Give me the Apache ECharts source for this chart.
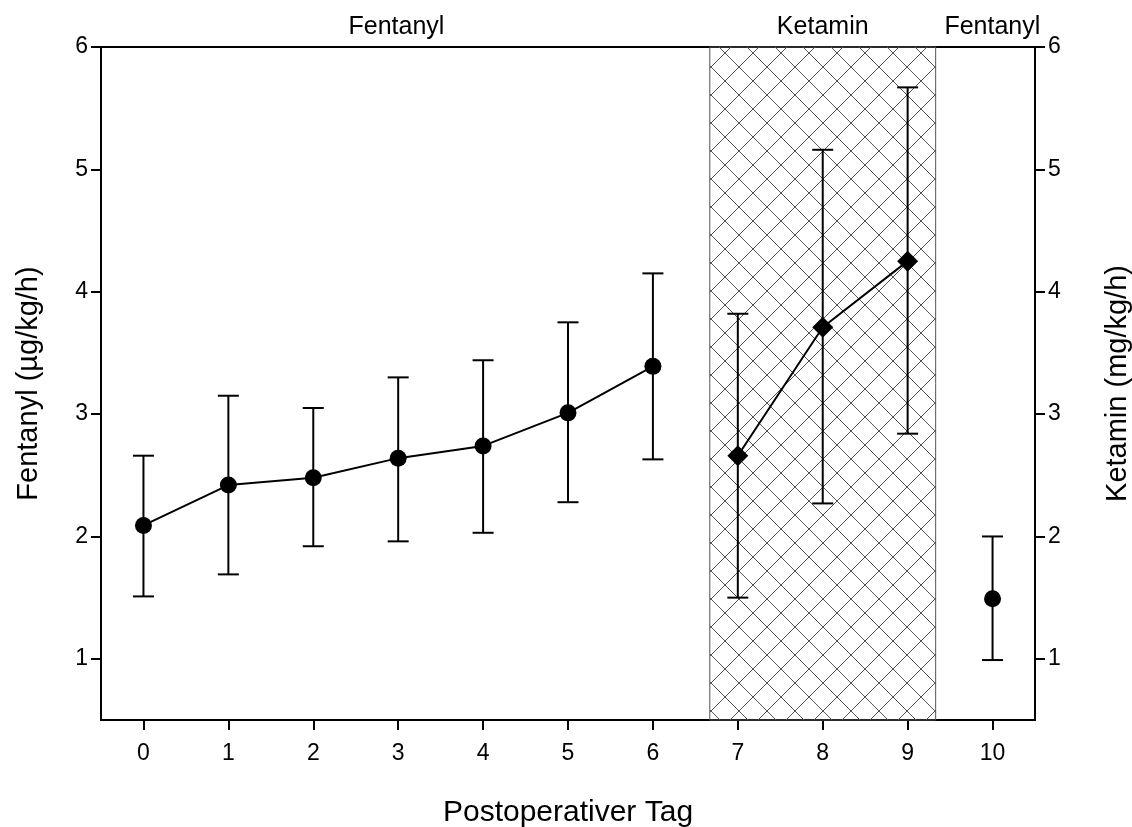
<!DOCTYPE html>
<html>
<head>
<meta charset="utf-8">
<script src="https://cdn.jsdelivr.net/npm/echarts@6/dist/echarts.min.js"></script>
<style>
html,body{margin:0;padding:0;background:#fff;overflow:hidden;}
#main{width:1132px;height:827px;}
</style>
</head>
<body>
<div id="main"></div>
<script>
// ---- data ----
const fentDays = [0, 1, 2, 3, 4, 5, 6];
const fentMean = [2.09, 2.42, 2.48, 2.64, 2.74, 3.01, 3.39];
const fentLow  = [1.51, 1.69, 1.92, 1.96, 2.03, 2.28, 2.63];
const fentHigh = [2.66, 3.15, 3.05, 3.30, 3.44, 3.75, 4.15];

const ketDays = [7, 8, 9];
const ketMean = [2.66, 3.71, 4.25];
const ketLow  = [1.50, 2.27, 2.84];
const ketHigh = [3.82, 5.16, 5.67];

const fent2Days = [10];
const fent2Mean = [1.49];
const fent2Low  = [0.99];
const fent2High = [2.00];

const periodLabels = ['Fentanyl', 'Ketamin', 'Fentanyl'];
const periodStart  = [-0.5, 6.67, 9.33];
const periodEnd    = [6.67, 9.33, 10.5];
const hatchedPeriod = 1;

const xTicks = [0, 1, 2, 3, 4, 5, 6, 7, 8, 9, 10];
const yTicks = [1, 2, 3, 4, 5, 6];

const xTitle = 'Postoperativer Tag';
const yLeftTitle = 'Fentanyl (µg/kg/h)';
const yRightTitle = 'Ketamin (mg/kg/h)';

// ---- hatch pattern ----
function makeHatch() {
  const s = 28;
  const c = document.createElement('canvas');
  c.width = s; c.height = s;
  const g = c.getContext('2d');
  g.strokeStyle = '#555';
  g.lineWidth = 1;
  g.beginPath();
  [-28, 0, 28].forEach(k => { // x - y = k
    g.moveTo(-4 + k, -4); g.lineTo(s + 4 + k, s + 4);
  });
  [-6, 22, 50].forEach(k => { // x + y = k
    g.moveTo(k + 4, -4); g.lineTo(k - s - 4, s + 4);
  });
  g.stroke();
  return c;
}
const hatch = makeHatch();

const FONT = 'Liberation Sans, Arial, sans-serif';

function pairs(xs, ys) { return xs.map((x, i) => [x, ys[i]]); }
function triples(xs, lo, hi) { return xs.map((x, i) => [x, lo[i], hi[i]]); }

function errRender(params, api) {
  const x = api.value(0), lo = api.value(1), hi = api.value(2);
  const pLo = api.coord([x, lo]);
  const pHi = api.coord([x, hi]);
  const w = 10.5;
  const st = { stroke: '#000', lineWidth: 2 };
  return {
    type: 'group',
    children: [
      { type: 'line', shape: { x1: pLo[0], y1: pLo[1], x2: pHi[0], y2: pHi[1] }, style: st },
      { type: 'line', shape: { x1: pHi[0] - w, y1: pHi[1], x2: pHi[0] + w, y2: pHi[1] }, style: st },
      { type: 'line', shape: { x1: pLo[0] - w, y1: pLo[1], x2: pLo[0] + w, y2: pLo[1] }, style: st }
    ]
  };
}

const labelShiftX = [-9, 0, 7];
const markAreaData = periodLabels.map((name, i) => [
  {
    name: name,
    xAxis: periodStart[i],
    label: { offset: [labelShiftX[i], 0] },
    itemStyle: i === hatchedPeriod
      ? { color: { image: hatch, repeat: 'repeat' }, borderColor: '#555', borderWidth: 1 }
      : { color: 'rgba(0,0,0,0)', borderWidth: 0 }
  },
  { xAxis: periodEnd[i] }
]);

const chart = echarts.init(document.getElementById('main'), null, { renderer: 'canvas' });

const yAxisCommon = {
  type: 'value',
  min: 0.5,
  max: 6,
  nameLocation: 'middle',
  nameTextStyle: { fontSize: 29, color: '#000', fontFamily: FONT },
  axisLine: { show: true, onZero: false, lineStyle: { color: '#000', width: 2 } },
  axisTick: { show: true, length: 10, lineStyle: { color: '#000', width: 2 }, customValues: yTicks },
  axisLabel: { color: '#000', fontSize: 23, fontFamily: FONT, margin: 13, customValues: yTicks },
  splitLine: { show: false }
};

chart.setOption({
  animation: false,
  backgroundColor: '#fff',
  grid: {
    left: 101, right: 97, top: 47, bottom: 107,
    outerBoundsMode: 'none', containLabel: false,
    show: true, borderColor: '#000', borderWidth: 2, backgroundColor: 'transparent'
  },
  xAxis: {
    type: 'value',
    min: -0.5,
    max: 10.5,
    name: xTitle,
    nameLocation: 'middle',
    nameGap: 78,
    nameTextStyle: { fontSize: 30, color: '#000', fontFamily: FONT },
    axisLine: { show: true, onZero: false, lineStyle: { color: '#000', width: 2 } },
    axisTick: { show: true, length: 10, lineStyle: { color: '#000', width: 2 }, customValues: xTicks },
    axisLabel: { color: '#000', fontSize: 23, fontFamily: FONT, margin: 22, customValues: xTicks },
    splitLine: { show: false }
  },
  yAxis: [
    Object.assign({}, yAxisCommon, { position: 'left', name: yLeftTitle, nameGap: 58 }),
    Object.assign({}, yAxisCommon, { position: 'right', name: yRightTitle, nameGap: 68, nameRotate: 90 })
  ],
  series: [
    {
      type: 'line',
      name: 'Fentanyl',
      yAxisIndex: 0,
      data: pairs(fentDays, fentMean),
      symbol: 'circle',
      symbolSize: 17,
      itemStyle: { color: '#000', opacity: 1 },
      lineStyle: { color: '#000', width: 2 },
      z: 5,
      markArea: {
        silent: true,
        z: 1,
        label: { show: true, position: 'top', distance: 7, color: '#000', fontSize: 25, fontFamily: FONT },
        data: markAreaData
      }
    },
    {
      type: 'line',
      name: 'Ketamin',
      yAxisIndex: 1,
      data: pairs(ketDays, ketMean),
      symbol: 'diamond',
      symbolSize: [21, 21],
      itemStyle: { color: '#000', opacity: 1 },
      lineStyle: { color: '#000', width: 2 },
      z: 5
    },
    {
      type: 'scatter',
      name: 'Fentanyl2',
      yAxisIndex: 0,
      data: pairs(fent2Days, fent2Mean),
      symbol: 'circle',
      symbolSize: 17,
      itemStyle: { color: '#000', opacity: 1 },
      z: 5
    },
    {
      type: 'custom',
      yAxisIndex: 0,
      renderItem: errRender,
      data: triples(fentDays, fentLow, fentHigh).concat(triples(fent2Days, fent2Low, fent2High)),
      z: 4
    },
    {
      type: 'custom',
      yAxisIndex: 1,
      renderItem: errRender,
      data: triples(ketDays, ketLow, ketHigh),
      z: 4
    }
  ]
});
</script>
</body>
</html>
